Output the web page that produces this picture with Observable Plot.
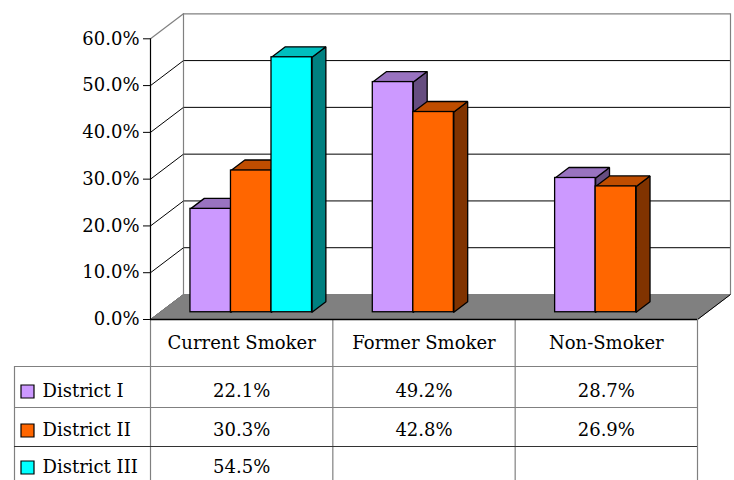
<!DOCTYPE html>
<html><head><meta charset="utf-8">
<script src="https://cdn.jsdelivr.net/npm/d3@7"></script>
<script src="https://cdn.jsdelivr.net/npm/@observablehq/plot@0.6"></script>
<style>
html,body{margin:0;padding:0;background:#fff}
#chart svg{display:block}
#chart svg text{font-family:'DejaVu Serif', serif !important}
</style>
</head><body><div id="chart"></div>
<script>
// ---- data ----
const categories = ["Current Smoker", "Former Smoker", "Non-Smoker"];
const series = ["District I", "District II", "District III"];
const districtI = [22.1, 49.2, 28.7];
const districtII = [30.3, 42.8, 26.9];
const districtIII = [54.5, null, null];
const yTicks = [0, 10, 20, 30, 40, 50, 60];
const frontColors = ["#CC99FF", "#FF6600", "#00FFFF"];
const topColors = ["#9973C0", "#BF4D00", "#00BFBF"];
const sideColors = ["#664D80", "#803300", "#008080"];

// ---- layout ----
const W = 734, H = 480, mL = 150, mR = 37, mT = 38.3, mB = 161;
const kx = (W - mL - mR) / categories.length;   // px per category
const ky = (H - mT - mB) / 60;                  // px per percent
const DX = 33 / kx, DY = 25 / ky;               // floor depth in data units
const dF = 0.29, dB = 0.71;                     // bar depth span (fraction)
const bw = 1 / 4.5, pad = 0.75 * bw;            // gap width 150%
const ux = px => (px - mL) / kx;
const uy = px => (H - mB - px) / ky;
const font = "'DejaVu Serif', serif";
const fs = 18;

const values = [districtI, districtII, districtIII];
const bars = [];
categories.forEach((c, ci) => series.forEach((s, si) => {
  const v = values[si][ci];
  if (v == null) return;
  const x0 = ci + pad + si * bw;
  bars.push({ci, si, v, x0, x1: x0 + bw});
}));

const tops = [], sides = [];
bars.forEach((b, i) => {
  const fx = dF * DX, fy = dF * DY, bx = dB * DX, by = dB * DY;
  [[b.x0 + fx, b.v + fy], [b.x1 + fx, b.v + fy], [b.x1 + bx, b.v + by], [b.x0 + bx, b.v + by], [b.x0 + fx, b.v + fy]]
    .forEach(([x, y]) => tops.push({id: i, x, y, c: topColors[b.si]}));
  [[b.x1 + fx, fy], [b.x1 + bx, by], [b.x1 + bx, b.v + by], [b.x1 + fx, b.v + fy], [b.x1 + fx, fy]]
    .forEach(([x, y]) => sides.push({id: i, x, y, c: sideColors[b.si]}));
});

const floor = [[0, 0], [3, 0], [3 + DX, DY], [DX, DY]].map(([x, y]) => ({x, y}));

// table geometry
const rowLinesPx = [366, 407, 446];
const headerYpx = 343;
const rowYpx = [391, 430, 467];
const tableBottom = uy(H + 5);
const cells = [];
series.forEach((s, si) => categories.forEach((c, ci) => {
  const v = values[si][ci];
  if (v != null) cells.push({x: ci + 0.5, y: uy(rowYpx[si]), t: v.toFixed(1) + "%"});
}));

const gray = "#808080";
const chart = Plot.plot({
  width: W, height: H,
  marginLeft: mL, marginRight: mR, marginTop: mT, marginBottom: mB,
  x: {domain: [0, 3], axis: null},
  y: {domain: [0, 60], ticks: yTicks, tickFormat: d => d.toFixed(1) + "%", tickSize: 7, tickPadding: 4, label: null},
  color: {type: "identity"},
  style: {fontFamily: font, fontSize: fs + "px", color: "black", background: "white", overflow: "visible"},
  marks: [
    // back wall gridlines
    Plot.ruleY(yTicks.filter(d => d > 0 && d < 60), {y: d => d + DY, x1: DX, x2: 3 + DX, stroke: "black", strokeWidth: 1}),
    Plot.ruleY([60], {y: d => d + DY, x1: DX, x2: 3 + DX, stroke: gray, strokeWidth: 1.2}),
    Plot.ruleX([DX, 3 + DX], {y1: DY, y2: 60 + DY, stroke: gray, strokeWidth: 1.2}),
    // side wall diagonals
    Plot.link(yTicks.filter(d => d < 60), {x1: 0, y1: d => d, x2: DX, y2: d => d + DY, stroke: "black", strokeWidth: 1}),
    Plot.link([60], {x1: 0, y1: d => d, x2: DX, y2: d => d + DY, stroke: gray, strokeWidth: 1.2}),
    // floor
    Plot.line(floor.concat([floor[0]]), {x: "x", y: "y", fill: gray, stroke: gray, strokeWidth: 1}),
    Plot.link([0], {x1: 3, y1: 0, x2: 3 + DX, y2: DY, stroke: "black", strokeWidth: 1}),
    // front axis line
    Plot.ruleX([0], {y1: 0, y2: 60, stroke: "black", strokeWidth: 1.2}),
    // bars
    Plot.line(sides, {x: "x", y: "y", z: "id", fill: "c", stroke: "black", strokeWidth: 1.3, strokeLinejoin: "miter"}),
    Plot.line(tops, {x: "x", y: "y", z: "id", fill: "c", stroke: "black", strokeWidth: 1.3, strokeLinejoin: "miter"}),
    Plot.rect(bars, {x1: d => d.x0 + dF * DX, x2: d => d.x1 + dF * DX, y1: dF * DY, y2: d => d.v + dF * DY,
      fill: d => frontColors[d.si], stroke: "black", strokeWidth: 1.3}),
    // data table lines
    Plot.ruleX([0, 1, 2, 3], {y1: 0, y2: tableBottom, stroke: gray, strokeWidth: 1.2}),
    Plot.ruleX([ux(14)], {y1: uy(rowLinesPx[0]), y2: tableBottom, stroke: gray, strokeWidth: 1.2}),
    Plot.ruleY(rowLinesPx.slice(0, 2).map(uy), {x1: ux(14), x2: 3, stroke: gray, strokeWidth: 1.2}),
    Plot.ruleY([uy(rowLinesPx[2])], {x1: ux(14), x2: 3, stroke: "#333", strokeWidth: 1.2}),
    Plot.ruleY([0], {x1: 0, x2: 3, stroke: "black", strokeWidth: 1.5}),
    // table header
    Plot.text(categories, {x: (d, i) => i + 0.5, y: uy(headerYpx), text: d => d, fill: "black", fontSize: fs, fontFamily: font}),
    // legend keys + row labels
    Plot.dot(series, {x: ux(27), y: (d, i) => uy(rowYpx[i]), symbol: "square", r: 13 / Math.sqrt(Math.PI),
      fill: (d, i) => frontColors[i], stroke: "black", strokeWidth: 1.2}),
    Plot.text(series, {x: ux(42), y: (d, i) => uy(rowYpx[i]), text: d => d, textAnchor: "start", fill: "black", fontSize: fs, fontFamily: font}),
    // values
    Plot.text(cells, {x: "x", y: "y", text: "t", fill: "black", fontSize: fs, fontFamily: font})
  ]
});
document.getElementById("chart").appendChild(chart);
</script>
</body></html>
